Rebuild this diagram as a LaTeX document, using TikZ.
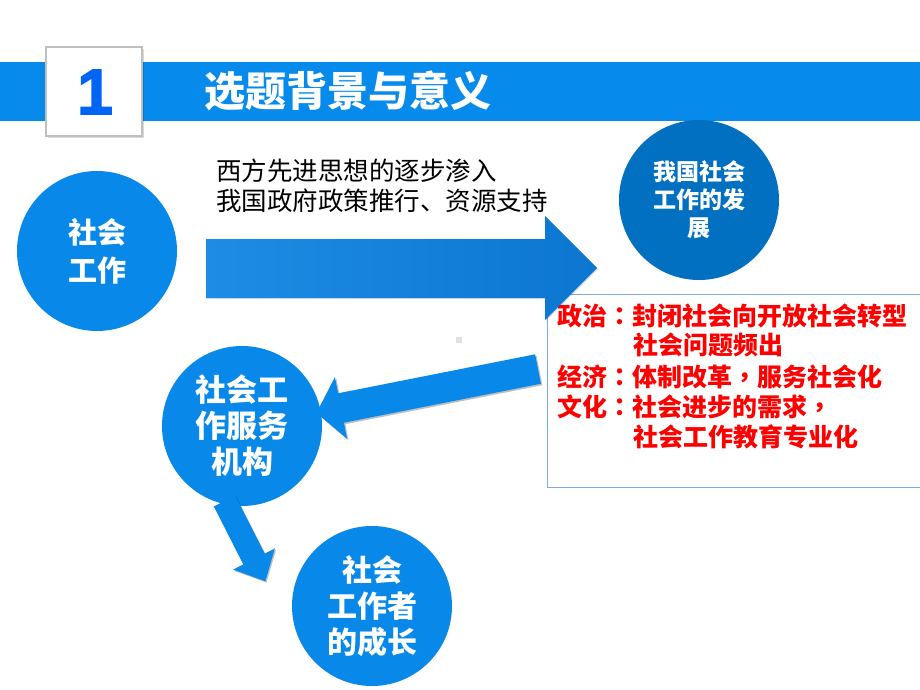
\documentclass[tikz,border=0pt]{standalone}
\usepackage{fontspec}
\setmainfont{Noto Sans CJK SC}
\newfontfamily\tcfont{Noto Sans CJK TC}
\newfontfamily\numfont[FakeBold=2.5]{Liberation Sans Bold}
\newcommand{\zs}{\rule[-0.12em]{0pt}{1em}}
\definecolor{hdr}{RGB}{6,138,235}
\definecolor{cblue}{RGB}{8,137,234}
\definecolor{cdark}{RGB}{2,112,192}
\definecolor{boxline}{RGB}{125,172,226}
\definecolor{alight}{RGB}{30,140,228}
\definecolor{adark}{RGB}{12,118,208}
\definecolor{sq}{RGB}{225,225,225}
\begin{document}
\begin{tikzpicture}[x=1pt,y=-1pt,
  circ/.style={circle, minimum size=160pt, inner sep=0pt, fill=cblue, text=white, align=center},
  redtxt/.style={anchor=west, inner sep=0pt, text=red, font=\bfseries\fontsize{25pt}{30pt}\selectfont},
  blktxt/.style={anchor=west, inner sep=0pt, text=black, font=\fontsize{25.5pt}{30pt}\selectfont},
  blockarrow/.style={fill=cblue},
  ashadow/.style={fill=black, opacity=0.25}]
\useasboundingbox (0,0) rectangle (920,690);
\fill[white] (0,0) rectangle (920,690);

% header
\fill[hdr] (0,62) rectangle (920,121);
\fill[black,opacity=0.15] (48,49) rectangle (144,138);
\draw[fill=white, draw=black!25, line width=1.5pt] (46,47) rectangle (142,136);
\node[text={rgb,255:red,0;green,100;blue,245}, font=\numfont\fontsize{64pt}{64pt}\selectfont, inner sep=0pt] (one) at (95,92) {1};
\node[anchor=west, inner sep=0pt, text=white, font=\bfseries\fontsize{41pt}{41pt}\selectfont] (title) at (204,91) {\zs 选题背景与意义};

% black text
\node[blktxt] (l1) at (216,171) {\zs 西方先进思想的逐步渗入};
\node[blktxt] (l2) at (216,201) {\zs 我国政府政策推行、资源支持};

% red box
\draw[boxline, line width=1pt] (930,294) -- (547,294) -- (547,487) -- (930,487);
\node[redtxt] (r1) at (557,316) {\zs 政治{\tcfont ：}封闭社会向开放社会转型};
\node[redtxt] (r2) at (633,345) {\zs 社会问题频出};
\node[redtxt] (r3) at (557,377) {\zs 经济{\tcfont ：}体制改革{\tcfont ，}服务社会化};
\node[redtxt] (r4) at (557,407) {\zs 文化{\tcfont ：}社会进步的需求{\tcfont ，}};
\node[redtxt] (r5) at (633,437) {\zs 社会工作教育专业化};

% big arrow
\fill[black,opacity=0.12] (207,240) -- (546,240) -- (546,217) -- (598.5,269) -- (546,321) -- (546,299) -- (207,299) -- cycle;
\shade[left color=alight, right color=adark] (206,239) -- (545,239) -- (545,216) -- (597,268) -- (545,320) -- (545,298) -- (206,298) -- cycle;

% tiny square
\fill[sq] (456,337) rectangle (462,343);

% circles top
\node[circ, fill=cdark, font=\bfseries\fontsize{23pt}{28pt}\selectfont] (dev) at (699,200) {\zs 我国社会\\\zs 工作的发\\\zs 展};
\node[circ, font=\bfseries\fontsize{29pt}{38pt}\selectfont] (sw) at (97,251) {\zs 社会\\\zs 工作};

% left arrow
\fill[ashadow] (536.6,355.8) -- (542.4,385.2) -- (345.4,424.2) -- (348.6,440.4) -- (318,414.4) -- (336.4,378.6) -- (339.6,394.8) -- cycle;
\fill[blockarrow] (535.1,354.3) -- (540.9,383.7) -- (343.9,422.7) -- (347.1,438.9) -- (316.5,412.9) -- (334.9,377.1) -- (338.1,393.3) -- cycle;

\node[circ, font=\bfseries\fontsize{31pt}{36pt}\selectfont] (org) at (242,426) {\zs 社会工\\\zs 作服务\\\zs 机构};

% down arrow
\fill[ashadow] (215,507.6) -- (236.4,496.8) -- (265.9,554.8) -- (276.1,549.6) -- (266.5,582.5) -- (234.3,570.8) -- (244.5,565.6) -- cycle;
\fill[blockarrow] (213.8,506.4) -- (235.2,495.6) -- (264.7,553.6) -- (274.9,548.4) -- (265.3,581.3) -- (233.1,569.6) -- (243.3,564.4) -- cycle;

\node[circ, font=\bfseries\fontsize{30pt}{36pt}\selectfont] (worker) at (372,606) {\zs 社会\\\zs 工作者\\\zs 的成长};
\end{tikzpicture}
\end{document}
